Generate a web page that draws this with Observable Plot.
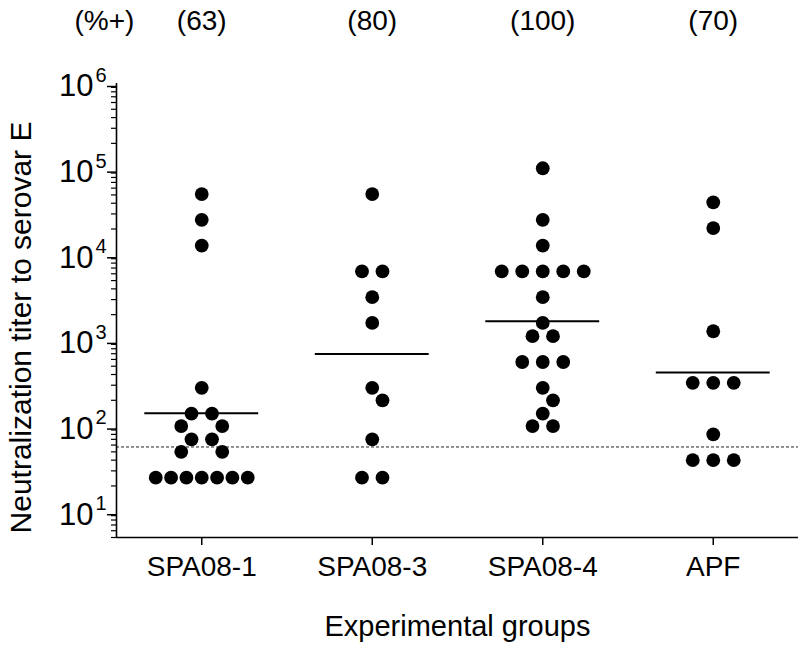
<!DOCTYPE html>
<html>
<head>
<meta charset="utf-8">
<script src="https://cdn.jsdelivr.net/npm/d3@7"></script>
<script src="https://cdn.jsdelivr.net/npm/@observablehq/plot@0.6"></script>
<style>
  html, body { margin: 0; padding: 0; background: #fff; }
</style>
</head>
<body>
<div id="chart"></div>
<script>
// ---- data ----
const groups = ["SPA08-1", "SPA08-3", "SPA08-4", "APF"];
const percentPositive = [63, 80, 100, 70];
const titersSPA08_1 = [51200, 25600, 12800, 280, 140, 140, 100, 100, 70, 70, 50, 50, 25, 25, 25, 25, 25, 25, 25];
const titersSPA08_3 = [51200, 6400, 6400, 3200, 1600, 280, 200, 70, 25, 25];
const titersSPA08_4 = [102400, 25600, 12800, 6400, 6400, 6400, 6400, 6400, 3200, 1600, 1120, 1120, 560, 560, 560, 280, 200, 140, 100, 100];
const titersAPF = [40960, 20480, 1280, 320, 320, 320, 80, 40, 40, 40];
const cutoff = 57;
const yMajorTicks = [10, 100, 1000, 10000, 100000, 1000000];
const yExponents = ["1", "2", "3", "4", "5", "6"];
const yMinorMultipliers = [2, 3, 4, 5, 6, 7, 8, 9];
const yDomain = [5, 1000000];
const headerLabel = "(%+)";
const xTitle = "Experimental groups";
const yTitle = "Neutralization titer to serovar E";

// ---- layout ----
const W = 800, H = 654, mL = 116, mR = 2, mT = 83, mB = 117;
const FONT = "'Liberation Sans', Arial, Helvetica, sans-serif";
const dotR = 6.9, slot = 20.5, minDist = 14.5, maxRowSpan = 92;

const titerSets = [titersSPA08_1, titersSPA08_3, titersSPA08_4, titersAPF];
const xDomain = [-0.5, groups.length - 0.5];
const xScale = Plot.scale({x: {domain: xDomain, range: [mL, W - mR]}});
const yScale = Plot.scale({y: {type: "log", domain: yDomain, range: [H - mB, mT]}});

const minorTicks = [];
for (let e = 0; e < 6; e++) for (const m of yMinorMultipliers) {
  const v = m * 10 ** e;
  if (v >= yDomain[0] && v <= yDomain[1]) minorTicks.push(v);
}

// column scatter layout: equal values in centred rows, avoiding overlaps
function columnLayout(values, gi) {
  const placed = [];
  const out = [];
  const rows = d3.groups(values, v => v).sort((a, b) => b[0] - a[0]);
  for (const [v, arr] of rows) {
    const n = arr.length;
    const py = yScale.apply(v);
    const s = n > 1 ? Math.min(slot, maxRowSpan / (n - 1)) : slot;
    const h = s / 2;
    const cands = [[1, 0], [2, 0], [1, h], [1, -h], [3, 0], [1, 2 * h], [1, -2 * h], [2, h], [2, -h], [1, 3 * h], [1, -3 * h], [1, 4 * h], [1, -4 * h]];
    let chosen = null;
    for (const [m, c] of cands) {
      const xs = d3.range(n).map(k => (k - (n - 1) / 2) * s * m + c);
      const ok = xs.every(px => placed.every(p => (p.px - px) ** 2 + (p.py - py) ** 2 >= minDist ** 2));
      if (ok) { chosen = xs; break; }
    }
    if (!chosen) chosen = d3.range(n).map(k => (k - (n - 1) / 2) * s);
    for (const px of chosen) {
      placed.push({px, py});
      out.push({group: groups[gi], v, x: xScale.invert(xScale.apply(gi) + px)});
    }
  }
  return out;
}

const points = titerSets.flatMap((vals, gi) => columnLayout(vals, gi));
const means = titerSets.map((vals, gi) => ({i: gi, gm: 10 ** d3.mean(vals, v => Math.log10(v))}));
const halfLine = 0.334;

const chart = Plot.plot({
  width: W, height: H,
  marginLeft: mL, marginRight: mR, marginTop: mT, marginBottom: mB,
  style: {fontFamily: FONT, fontSize: "28px", background: "#fff", color: "#000"},
  x: {domain: xDomain},
  y: {type: "log", domain: yDomain},
  marks: [
    Plot.ruleY([cutoff], {stroke: "#222", strokeWidth: 1, strokeDasharray: "3,2"}),
    Plot.dot(points, {x: "x", y: "v", r: dotR, fill: "#000", stroke: "none"}),
    Plot.ruleY(means, {y: "gm", x1: d => d.i - halfLine, x2: d => d.i + halfLine, stroke: "#000", strokeWidth: 2}),
    Plot.ruleX([xDomain[0]], {stroke: "#000", strokeWidth: 1.6}),
    Plot.ruleY([yDomain[0]], {stroke: "#000", strokeWidth: 1.6}),
    Plot.axisX(d3.range(groups.length), {tickFormat: i => groups[i], tickSize: 8, tickPadding: 11, fontSize: 28, strokeWidth: 1.5, label: null}),
    Plot.axisY(minorTicks, {tickSize: 5, strokeWidth: 1.2, fill: "none", label: null}),
    Plot.axisY(yMajorTicks, {tickSize: 9, tickPadding: 14, strokeWidth: 1.5, tickFormat: () => "10", fontSize: 31, dy: 3, label: null}),
    Plot.text(yMajorTicks, {y: d => d, frameAnchor: "left", text: (d, i) => yExponents[i], textAnchor: "end", dx: -10, dy: -8, fontSize: 20}),
    Plot.text(d3.range(groups.length), {x: d => d, text: i => `(${percentPositive[i]})`, frameAnchor: "top", dy: -73, fontSize: 28}),
    Plot.text([headerLabel], {frameAnchor: "top-left", text: d => d, textAnchor: "middle", dx: -12, dy: -73, fontSize: 28}),
    Plot.text([xTitle], {frameAnchor: "bottom", text: d => d, dy: 98, fontSize: 29}),
    Plot.text([yTitle], {frameAnchor: "left", text: d => d, textAnchor: "middle", rotate: -90, dx: -95, dy: 17, fontSize: 30})
  ]
});
document.getElementById("chart").append(chart);
</script>
</body>
</html>
